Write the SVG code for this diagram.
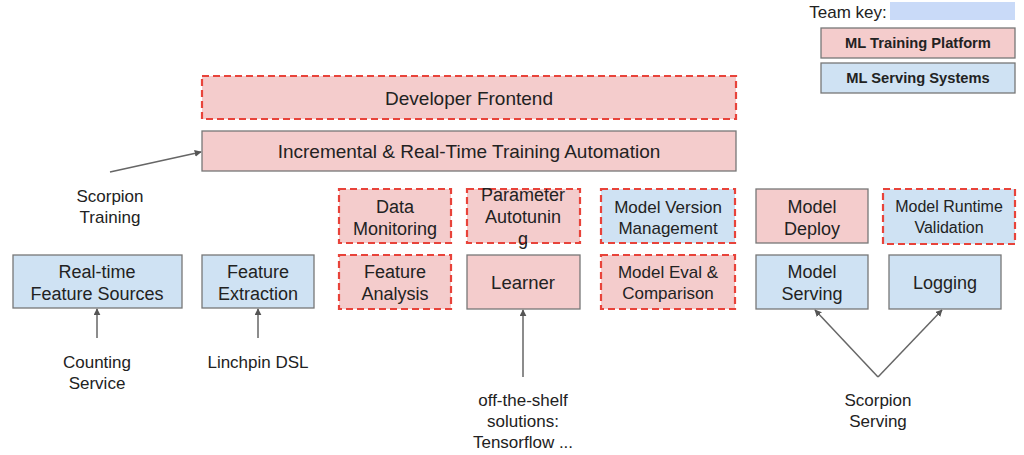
<svg xmlns="http://www.w3.org/2000/svg" width="1024" height="455" viewBox="0 0 1024 455">
<style>
text{font-family:"Liberation Sans",Arial,sans-serif;fill:#222;text-anchor:middle}
.t{font-size:18px}
.w{font-size:19px}
.s{font-size:17px}
.m{font-size:16px}
.lg{font-size:14.7px;font-weight:bold}
.pink{fill:#f4cccc}
.blue{fill:#cfe2f3}
.solid{stroke:#777;stroke-width:1.3}
.dash{stroke:#e8433a;stroke-width:2.2;stroke-dasharray:7 4}
.conn{stroke:#666;stroke-width:1.5;fill:none;marker-end:url(#ah)}
</style>
<defs>
<marker id="ah" viewBox="0 0 10 10" refX="9" refY="5" markerWidth="7" markerHeight="7" markerUnits="userSpaceOnUse" orient="auto">
<path d="M0,0 L10,5 L0,10 z" fill="#555"/>
</marker>
</defs>
<rect width="1024" height="455" fill="#fff"/>

<g id="legend">
<text x="848" y="18" style="font-size:17px">Team key:</text>
<rect x="890" y="2" width="125" height="18" fill="#c9daf8"/>
<rect x="821" y="28" width="194" height="30" class="pink solid"/>
<text x="918" y="48" class="lg">ML Training Platform</text>
<rect x="821" y="63" width="194" height="30" class="blue solid"/>
<text x="918" y="83" class="lg">ML Serving Systems</text>
</g>

<g id="developer-frontend">
<rect x="202" y="76" width="534" height="43" class="pink dash"/>
<text x="469" y="105" class="w">Developer Frontend</text>
</g>

<g id="training-automation">
<rect x="202" y="131" width="534" height="40" class="pink solid"/>
<text x="469" y="158" class="w">Incremental &amp; Real-Time Training Automation</text>
</g>

<g id="data-monitoring">
<rect x="339" y="189" width="112" height="54" class="pink dash"/>
<text x="395" y="213" class="t">Data</text>
<text x="395" y="235" class="t">Monitoring</text>
</g>

<g id="parameter-autotuning">
<rect x="467" y="189" width="113" height="54" class="pink dash"/>
<text x="523" y="201" class="t">Parameter</text>
<text x="523" y="223" class="t">Autotunin</text>
<text x="523" y="245" class="t">g</text>
</g>

<g id="model-version-management">
<rect x="601" y="189" width="134" height="54" class="blue dash"/>
<text x="668" y="213" class="s">Model Version</text>
<text x="668" y="234" class="s">Management</text>
</g>

<g id="model-deploy">
<rect x="756" y="189" width="112" height="54" class="pink solid"/>
<text x="812" y="213" class="t">Model</text>
<text x="812" y="235" class="t">Deploy</text>
</g>

<g id="model-runtime-validation">
<rect x="883" y="189" width="132" height="55" class="blue dash"/>
<text x="949" y="212" class="m">Model Runtime</text>
<text x="949" y="233" class="m">Validation</text>
</g>

<g id="realtime-feature-sources">
<rect x="13" y="255" width="169" height="53" class="blue solid"/>
<text x="97" y="278" class="t">Real-time</text>
<text x="97" y="300" class="t">Feature Sources</text>
</g>

<g id="feature-extraction">
<rect x="202" y="255" width="112" height="53" class="blue solid"/>
<text x="258" y="278" class="t">Feature</text>
<text x="258" y="300" class="t">Extraction</text>
</g>

<g id="feature-analysis">
<rect x="339" y="255" width="112" height="54" class="pink dash"/>
<text x="395" y="278" class="t">Feature</text>
<text x="395" y="300" class="t">Analysis</text>
</g>

<g id="learner">
<rect x="467" y="255" width="113" height="54" class="pink solid"/>
<text x="523" y="289" class="t" style="font-size:18.5px">Learner</text>
</g>

<g id="model-eval">
<rect x="601" y="255" width="134" height="54" class="pink dash"/>
<text x="668" y="278" class="s">Model Eval &amp;</text>
<text x="668" y="299" class="s">Comparison</text>
</g>

<g id="model-serving">
<rect x="756" y="255" width="112" height="54" class="blue solid"/>
<text x="812" y="278" class="t">Model</text>
<text x="812" y="300" class="t">Serving</text>
</g>

<g id="logging">
<rect x="889" y="255" width="112" height="54" class="blue solid"/>
<text x="945" y="289" class="t">Logging</text>
</g>

<g id="labels">
<text x="110" y="202" class="s">Scorpion</text>
<text x="110" y="223" class="s">Training</text>
<text x="97" y="368" class="s">Counting</text>
<text x="97" y="389" class="s">Service</text>
<text x="258" y="368" class="s">Linchpin DSL</text>
<text x="523" y="406" class="s">off-the-shelf</text>
<text x="523" y="427" class="s">solutions:</text>
<text x="523" y="448" class="s">Tensorflow ...</text>
<text x="878" y="406" class="s">Scorpion</text>
<text x="878" y="427" class="s">Serving</text>
</g>

<g id="connectors">
<line x1="110" y1="172" x2="201" y2="152" class="conn"/>
<line x1="97" y1="338" x2="97" y2="309" class="conn"/>
<line x1="258" y1="338" x2="258" y2="309" class="conn"/>
<line x1="523" y1="377" x2="523" y2="310" class="conn"/>
<line x1="878" y1="377" x2="815" y2="310" class="conn"/>
<line x1="878" y1="377" x2="942" y2="310" class="conn"/>
</g>
</svg>
